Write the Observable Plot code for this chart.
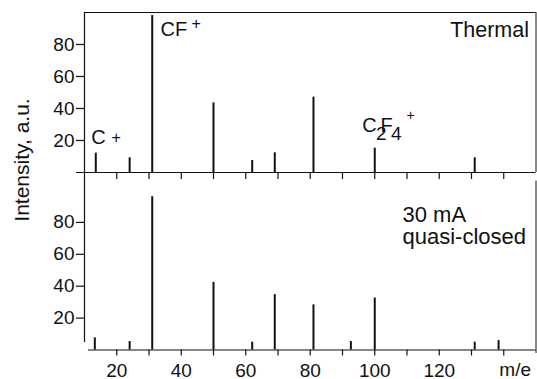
<!DOCTYPE html>
<html>
<head>
<meta charset="utf-8">
<script src="https://cdn.jsdelivr.net/npm/d3@7"></script>
<script src="https://cdn.jsdelivr.net/npm/@observablehq/plot@0.6"></script>
<style>
  html, body { margin: 0; padding: 0; background: #fff; }
  #chart { position: relative; width: 537px; height: 379px; font-family: "Liberation Sans", Arial, Helvetica, sans-serif; color: #111; }
  #chart svg { position: absolute; left: 0; overflow: visible; }
  #ytitle { position: absolute; left: 22px; top: 160px; transform: translate(-50%, -50%) rotate(-90deg);
            white-space: nowrap; font-size: 21px; line-height: 1.15; }
</style>
</head>
<body>
<div id="chart"><div id="ytitle">Intensity, a.u.</div></div>
<script>
// ---- data ----
const massTicks = [20, 30, 40, 50, 60, 70, 80, 90, 100, 110, 120, 130, 140];
const massLabels = [20, 40, 60, 80, 100, 120];
const intensityTicks = [20, 40, 60, 80];

const thermalMass      = [13.5, 24, 31, 50, 62, 69, 81, 100, 131];
const thermalIntensity = [12.1, 9.2, 98.1, 43.5, 7.5, 12.3, 47.1, 15.2, 9.2];

const closedMass      = [13.2, 24, 31, 50, 62, 69, 81, 92.6, 100, 131, 138.4];
const closedIntensity = [7.6, 5.3, 96.1, 42.4, 4.9, 34.7, 28.3, 5.3, 32.6, 4.9, 5.9];

const ionMass  = [13.5, 31, 100];
const ionNames = ["C+", "CF+", "C2F4+"];

const topTitle = "Thermal";
const bottomTitle = ["30 mA", "quasi-closed"];
const xTitle = "m/e";

// ---- tables ----
const thermal = thermalMass.map((m, i) => ({m, v: thermalIntensity[i]}));
const closed = closedMass.map((m, i) => ({m, v: closedIntensity[i]}));
const ions = ionMass.map((m, i) => ({m, v: thermal.find(d => d.m === m).v, name: ionNames[i]}));

const font = "'Liberation Sans', Arial, Helvetica, sans-serif";
const ink = "#111";
const frameW = 1.2;

// per-ion label offsets (pixels, relative to the peak top)
const ionStyle = {
  "C+":    {dx: -4.5, dy: -9},
  "CF+":   {dx: 8.3,  dy: 20},
  "C2F4+": {dx: -12.5, dy: -16}
};
// how each label is split into base / sub / superscript runs
const ionRuns = {
  "C+":    [["C", 20, 0, 0], ["+", 16, 5.8, -1.6]],
  "CF+":   [["CF", 20, 0, 0], ["+", 16, 4.2, -6.4]],
  "C2F4+": [["C", 20, 0, 0], ["2", 19, -0.6, 8.3], ["F", 20, -6.1, -8.3], ["4", 19, -1.7, 8.3], ["+", 14, 4.9, -20.4]]
};

const common = {
  width: 537,
  marginLeft: 84, marginRight: 1.5,
  x: {domain: [10, 150]},
  y: {domain: [0, 100]},
  style: {fontFamily: font, background: "transparent", overflow: "visible", color: ink}
};

const topPlot = Plot.plot({
  ...common,
  height: 190, marginTop: 12, marginBottom: 18,
  marks: [
    Plot.ruleY([100], {x1: 10, x2: 150, stroke: ink, strokeWidth: frameW}),
    Plot.ruleX([150], {y1: 0, y2: 100, stroke: ink, strokeWidth: 1}),
    Plot.ruleX([10], {y1: -11.25, y2: 100, stroke: ink, strokeWidth: frameW}),
    Plot.ruleY([0], {x1: 7.5, x2: 150, stroke: ink, strokeWidth: frameW}),
    Plot.axisX({ticks: massTicks, tickSize: 7, tickFormat: () => "", label: null, strokeWidth: frameW}),
    Plot.axisY({ticks: intensityTicks, tickSize: 8, tickPadding: 2, fontSize: 19, label: null, strokeWidth: frameW}),
    Plot.ruleX(thermal, {x: "m", y1: 0, y2: "v", stroke: ink, strokeWidth: 2}),
    ...ions.map(d => Plot.text([d], {x: "m", y: "v", text: "name", dx: ionStyle[d.name].dx, dy: ionStyle[d.name].dy,
      fontSize: 20, textAnchor: "start", lineAnchor: "bottom", fill: ink})),
    Plot.text([topTitle], {frameAnchor: "top-right", textAnchor: "end", lineAnchor: "bottom",
      dx: -7, dy: 24, fontSize: 21.5, fill: ink})
  ]
});

// turn the ion names into sub/superscripted runs
const NS = "http://www.w3.org/2000/svg";
topPlot.querySelectorAll("text").forEach(t => {
  const runs = ionRuns[t.textContent];
  if (!runs) return;
  t.textContent = "";
  for (const [s, size, dx, dy] of runs) {
    const ts = document.createElementNS(NS, "tspan");
    ts.textContent = s;
    ts.setAttribute("font-size", size);
    if (dx) ts.setAttribute("dx", dx);
    if (dy) ts.setAttribute("dy", dy);
    t.appendChild(ts);
  }
});

const bottomPlot = Plot.plot({
  ...common,
  height: 199, marginTop: 10, marginBottom: 29.5,
  marks: [
    Plot.ruleX([150], {y1: -2.2, y2: 105.9, stroke: ink, strokeWidth: 1}),
    Plot.ruleX([10], {y1: 4.7, y2: 100, stroke: ink, strokeWidth: frameW}),
    Plot.ruleY([0], {x1: 11.24, x2: 150, stroke: ink, strokeWidth: frameW}),
    Plot.axisX({ticks: massTicks, tickSize: 6, tickPadding: 7, fontSize: 19, label: null, strokeWidth: frameW,
      tickFormat: d => massLabels.includes(d) ? String(d) : ""}),
    Plot.axisY({ticks: intensityTicks, tickSize: 8, tickPadding: 2, fontSize: 19, label: null, strokeWidth: frameW}),
    Plot.ruleX(closed, {x: "m", y1: 0, y2: "v", stroke: ink, strokeWidth: 2}),
    Plot.text([bottomTitle[0]], {frameAnchor: "top-right", textAnchor: "start", lineAnchor: "bottom",
      dx: -133.5, dy: 31.8, fontSize: 22, fill: ink}),
    Plot.text([bottomTitle[1]], {frameAnchor: "top-right", textAnchor: "start", lineAnchor: "bottom",
      dx: -133.5, dy: 53, fontSize: 22, fill: ink}),
    Plot.text([xTitle], {frameAnchor: "bottom-right", textAnchor: "end", lineAnchor: "bottom",
      dx: -5, dy: 26, fontSize: 19, fill: ink})
  ]
});

topPlot.style.top = "0px";
bottomPlot.style.top = "180px";
const chart = document.getElementById("chart");
chart.appendChild(topPlot);
chart.appendChild(bottomPlot);
</script>
</body>
</html>
